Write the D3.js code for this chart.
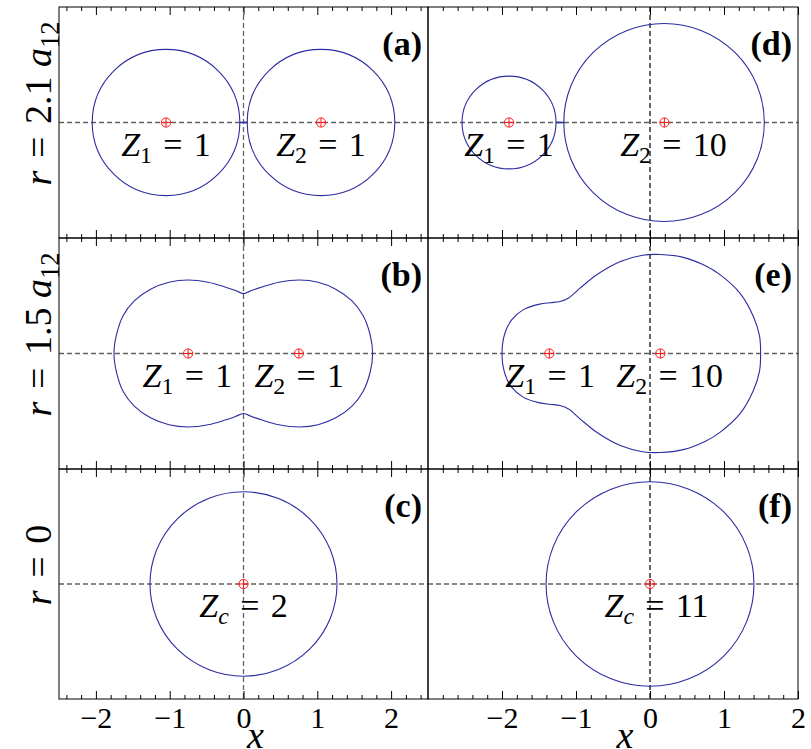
<!DOCTYPE html>
<html>
<head>
<meta charset="utf-8">
<script src="https://cdn.jsdelivr.net/npm/d3@7/dist/d3.min.js"></script>
<style>
  body { margin: 0; background: #fff; }
  svg { display: block; }
  text { white-space: pre; }
</style>
</head>
<body>
<svg id="chart" width="811" height="749"></svg>
<script>
// ---- axis ranges and ticks ----
const xDomainLeft = [-2.5, 2.5];
const xDomainRight = [-3, 2];
const yDomain = [-1.58, 1.58];
const majorTicksLeft = [-2, -1, 0, 1, 2];
const majorTicksRight = [-2, -1, 0, 1, 2];
const minorTicksLeft = [-2.4, -2.2, -1.8, -1.6, -1.4, -1.2, -0.8, -0.6, -0.4, -0.2,
                        0.2, 0.4, 0.6, 0.8, 1.2, 1.4, 1.6, 1.8, 2.2, 2.4];
const minorTicksRight = [-2.8, -2.6, -2.4, -2.2, -1.8, -1.6, -1.4, -1.2, -0.8, -0.6, -0.4, -0.2,
                         0.2, 0.4, 0.6, 0.8, 1.2, 1.4, 1.6, 1.8];
const tickLabels = ["\u22122", "\u22121", "0", "1", "2"];

// ---- nuclei positions (x) per panel ----
const chargesA = [-1.05, 1.05];
const chargesB = [-0.75, 0.75];
const chargesC = [0];
const chargesD = [-1.905, 0.195];
const chargesE = [-1.36, 0.14];
const chargesF = [0];

// ---- circular contours: centre x and radius ----
const circlesA = [{ cx: -1.05, r: 1.0 }, { cx: 1.05, r: 1.0 }];
const circlesC = [{ cx: 0, r: 1.267 }];
const circlesD = [{ cx: -1.905, r: 0.635 }, { cx: 0.19, r: 1.355 }];
const circlesF = [{ cx: 0, r: 1.405 }];

// thin bridges joining touching contours along y = 0
const necksA = [[-0.05, 0.05]];
const necksD = [[-1.27, -1.165]];

// ---- merged contours: upper half (x, y) from left to right, mirrored about y = 0 ----
const contourB = [
  [-1.755, 0], [-1.72, 0.26], [-1.63, 0.52], [-1.48, 0.72], [-1.26, 0.88], [-1.01, 0.975],
  [-0.75, 1.005], [-0.48, 0.975], [-0.25, 0.91], [-0.08, 0.85], [0, 0.82],
  [0.08, 0.85], [0.25, 0.91], [0.48, 0.975], [0.76, 1.005], [1.01, 0.975], [1.25, 0.88],
  [1.47, 0.72], [1.62, 0.52], [1.715, 0.26], [1.75, 0]
];
const contourE = [
  [-2.0, 0], [-1.96, 0.28], [-1.87, 0.46], [-1.71, 0.60], [-1.49, 0.675], [-1.35, 0.695],
  [-1.216, 0.712], [-1.10, 0.76], [-0.95, 0.89], [-0.72, 1.078], [-0.40, 1.26], [-0.10, 1.345],
  [0.14, 1.355], [0.45, 1.315], [0.75, 1.20], [0.95, 1.075], [1.22, 0.82], [1.40, 0.50],
  [1.48, 0.24], [1.495, 0]
];

// ---- in-panel charge labels: x anchor, subscript, value ----
const labelsA = [{ x: -1.05, sub: "1", val: "1" }, { x: 1.05, sub: "2", val: "1" }];
const labelsB = [{ x: -0.76, sub: "1", val: "1" }, { x: 0.756, sub: "2", val: "1" }];
const labelsC = [{ x: 0, sub: "c", val: "2" }];
const labelsD = [{ x: -1.905, sub: "1", val: "1" }, { x: 0.318, sub: "2", val: "10" }];
const labelsE = [{ x: -1.35, sub: "1", val: "1" }, { x: 0.265, sub: "2", val: "10" }];
const labelsF = [{ x: 0.088, sub: "c", val: "11" }];

const panelTags = ["(a)", "(b)", "(c)", "(d)", "(e)", "(f)"];
const EQ = "\u2004=\u2004";
const rowTitles = [
  [{ t: "r", i: true }, { t: EQ + "2.1\u2005" }, { t: "a", i: true }, { t: "12", sub: true }],
  [{ t: "r", i: true }, { t: EQ + "1.5\u2005" }, { t: "a", i: true }, { t: "12", sub: true }],
  [{ t: "r", i: true }, { t: EQ + "0" }]
];

// ---- layout ----
const LEFT = 59, MID = 428, RIGHT = 798;
const ROWS = [7, 238, 469, 699];
const FONT = "'Liberation Serif', 'Times New Roman', serif";
const BLUE = "#2d2da2";

const svg = d3.select("#chart");

const xScales = [
  d3.scaleLinear().domain(xDomainLeft).range([LEFT, MID]),
  d3.scaleLinear().domain(xDomainRight).range([MID, RIGHT])
];
const majorTicks = [majorTicksLeft, majorTicksRight];
const minorTicks = [minorTicksLeft, minorTicksRight];
const yScaleFor = row => d3.scaleLinear().domain(yDomain).range([ROWS[row + 1], ROWS[row]]);

const panels = [
  { col: 0, row: 0, charges: chargesA, circles: circlesA, necks: necksA, contour: null, labels: labelsA, vColor: "#666" },
  { col: 0, row: 1, charges: chargesB, circles: [], necks: [], contour: contourB, labels: labelsB, vColor: "#666" },
  { col: 0, row: 2, charges: chargesC, circles: circlesC, necks: [], contour: null, labels: labelsC, vColor: "#666" },
  { col: 1, row: 0, charges: chargesD, circles: circlesD, necks: necksD, contour: null, labels: labelsD, vColor: "#111" },
  { col: 1, row: 1, charges: chargesE, circles: [], necks: [], contour: contourE, labels: labelsE, vColor: "#111" },
  { col: 1, row: 2, charges: chargesF, circles: circlesF, necks: [], contour: null, labels: labelsF, vColor: "#111" }
];

// math-style text: italic symbol, subscript, upright remainder
function mathText(sel, parts, size) {
  const shift = size * 0.22;
  let lowered = false;
  parts.forEach(p => {
    const ts = sel.append("tspan").text(p.t);
    if (p.i) ts.attr("font-style", "italic");
    if (p.sub) {
      ts.attr("font-size", size * 0.7).attr("dy", lowered ? 0 : shift);
      lowered = true;
    } else if (lowered) {
      ts.attr("dy", -shift);
      lowered = false;
    }
  });
}

panels.forEach((p, k) => {
  const x = xScales[p.col];
  const y = yScaleFor(p.row);
  const [x0, x1] = x.range();
  const top = ROWS[p.row], bottom = ROWS[p.row + 1];

  const clipId = "clip" + k;
  svg.append("clipPath").attr("id", clipId)
    .append("rect").attr("x", x0).attr("y", top).attr("width", x1 - x0).attr("height", bottom - top);

  const g = svg.append("g").attr("clip-path", `url(#${clipId})`);

  // reference axes through the origin
  g.append("line")
    .attr("x1", x0).attr("x2", x1).attr("y1", y(0)).attr("y2", y(0))
    .attr("stroke", "#606060").attr("stroke-width", 1.3).attr("stroke-dasharray", "5,3");
  g.append("line")
    .attr("x1", x(0)).attr("x2", x(0)).attr("y1", top).attr("y2", bottom)
    .attr("stroke", p.vColor).attr("stroke-width", 1.3).attr("stroke-dasharray", "5,3");

  // circular contours
  g.selectAll("ellipse.ring").data(p.circles).join("ellipse")
    .attr("class", "ring")
    .attr("cx", d => x(d.cx)).attr("cy", y(0))
    .attr("rx", d => x(d.cx + d.r) - x(d.cx))
    .attr("ry", d => y(0) - y(d.r))
    .attr("fill", "none").attr("stroke", BLUE).attr("stroke-width", 1.1);

  g.selectAll("line.neck").data(p.necks).join("line")
    .attr("class", "neck")
    .attr("x1", d => x(d[0])).attr("x2", d => x(d[1]))
    .attr("y1", y(0)).attr("y2", y(0))
    .attr("stroke", BLUE).attr("stroke-width", 1.6);

  // merged contour as one closed outline: upper half, then its mirror image back
  if (p.contour) {
    const lowerHalf = p.contour.slice(1, -1).reverse().map(d => [d[0], -d[1]]);
    const ring = p.contour.concat(lowerHalf);
    const outline = d3.line().x(d => x(d[0])).y(d => y(d[1])).curve(d3.curveCatmullRomClosed.alpha(0.5));
    g.append("path").attr("d", outline(ring))
      .attr("fill", "none").attr("stroke", BLUE).attr("stroke-width", 1.1);
  }

  // nuclei markers
  const m = g.selectAll("g.nucleus").data(p.charges).join("g")
    .attr("class", "nucleus")
    .attr("transform", d => `translate(${x(d)},${y(0)})`);
  m.append("circle").attr("r", 4.6).attr("fill", "none").attr("stroke", "#ff1a1a").attr("stroke-width", 1);
  m.append("line").attr("x1", -4.6).attr("x2", 4.6).attr("stroke", "#ff1a1a").attr("stroke-width", 1);
  m.append("line").attr("y1", -4.6).attr("y2", 4.6).attr("stroke", "#ff1a1a").attr("stroke-width", 1);

  // charge labels
  p.labels.forEach(l => {
    const t = svg.append("text")
      .attr("x", x(l.x)).attr("y", y(0) + 33)
      .attr("text-anchor", "middle")
      .attr("font-family", FONT).attr("font-size", 34).attr("fill", "#000");
    mathText(t, [{ t: "Z", i: true }, { t: l.sub, sub: true, i: l.sub === "c" }, { t: EQ + l.val }], 34);
  });

  // panel tag
  svg.append("text")
    .attr("x", x1 - 6).attr("y", top + 48)
    .attr("text-anchor", "end")
    .attr("font-family", FONT).attr("font-size", 34).attr("font-weight", "bold")
    .text(panelTags[k]);

  // inward ticks on top and bottom edges
  const tickGroups = [
    { axis: d3.axisBottom, y: top },
    { axis: d3.axisTop, y: bottom }
  ];
  tickGroups.forEach(tg => {
    [[majorTicks[p.col], 8], [minorTicks[p.col], 4]].forEach(([vals, len]) => {
      const ax = svg.append("g")
        .attr("transform", `translate(0,${tg.y})`)
        .call(tg.axis(x).tickValues(vals).tickSize(len).tickSizeOuter(0).tickFormat(""));
      ax.select(".domain").remove();
      ax.selectAll("line").attr("stroke", "#000").attr("stroke-width", 1);
    });
  });

  // frame
  svg.append("rect")
    .attr("x", x0).attr("y", top).attr("width", x1 - x0).attr("height", bottom - top)
    .attr("fill", "none").attr("stroke", "#000").attr("stroke-width", 1);

  // tick labels under the bottom row
  if (p.row === 2) {
    const lab = svg.append("g")
      .attr("transform", `translate(0,${bottom})`)
      .call(d3.axisBottom(x).tickValues(majorTicks[p.col]).tickSize(0).tickPadding(8)
        .tickFormat((d, i) => tickLabels[i]));
    lab.select(".domain").remove();
    lab.selectAll("text").attr("font-family", FONT).attr("font-size", 30).attr("fill", "#000");

    svg.append("text")
      .attr("x", (x0 + x1) / 2 + 12).attr("y", 748)
      .attr("text-anchor", "middle")
      .attr("font-family", FONT).attr("font-size", 38).attr("font-style", "italic")
      .text("x");
  }
});

// row titles on the left
rowTitles.forEach((parts, r) => {
  const cy = (ROWS[r] + ROWS[r + 1]) / 2 - 19;
  const t = svg.append("text")
    .attr("transform", `translate(51,${cy}) rotate(-90)`)
    .attr("text-anchor", "middle")
    .attr("font-family", FONT).attr("font-size", 38).attr("fill", "#000");
  mathText(t, parts, 38);
});
</script>
</body>
</html>
